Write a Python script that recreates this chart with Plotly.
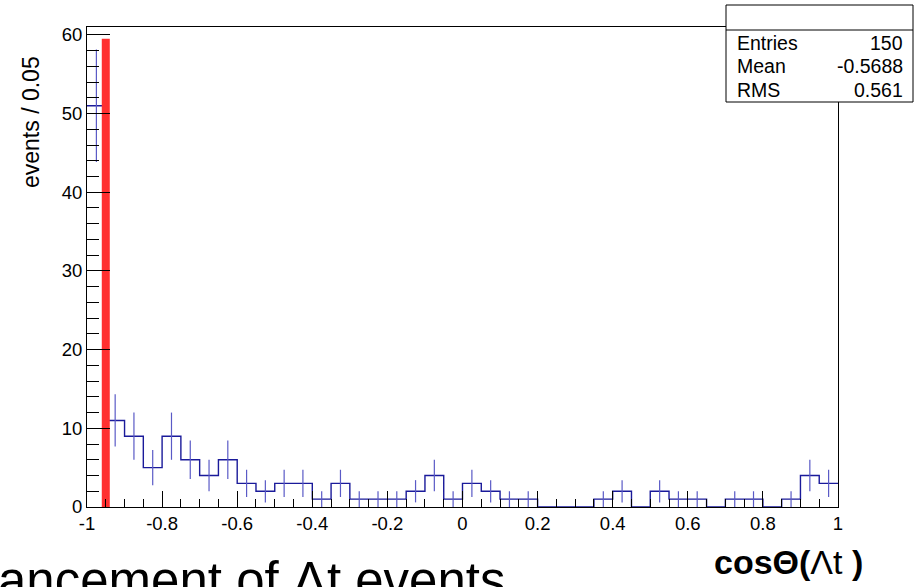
import math
import plotly.graph_objects as go

# Histogram definition: 40 bins of width 0.05 on [-1, 1]
x_min = -1.0
bin_width = 0.05
counts = [51, 11, 9, 5, 9, 6, 4, 6, 3, 2,
          3, 3, 1, 3, 1, 1, 1, 2, 4, 1,
          3, 2, 1, 1, 0, 0, 0, 1, 2, 0,
          2, 1, 1, 0, 1, 1, 0, 1, 4, 3]

x_tick_vals = [-1, -0.8, -0.6, -0.4, -0.2, 0, 0.2, 0.4, 0.6, 0.8, 1]
x_tick_text = ["-1", "-0.8", "-0.6", "-0.4", "-0.2", "0", "0.2", "0.4", "0.6", "0.8", "1"]
y_tick_vals = [0, 10, 20, 30, 40, 50, 60]

# Vertical cut marker
cut_x = -0.95
cut_height = 59.5

# Statistics box contents
stat_names = ["Entries", "Mean", "RMS"]
stat_values = ["150", "-0.5688", "0.561"]

W, H = 923, 587
ML, MR, MT, MB = 87, 85, 27, 80
PW, PH = W - ML - MR, H - MT - MB
FONT = "Liberation Sans, Arial, Helvetica, sans-serif"


def px(xp):
    return (xp - ML) / PW


def py(yp):
    return (H - MB - yp) / PH


n_bins = len(counts)
edges = [x_min + bin_width * i for i in range(n_bins + 1)]
centers = [x_min + bin_width * (i + 0.5) for i in range(n_bins)]
errors = [math.sqrt(c) for c in counts]

fig = go.Figure()

# Step outline of the histogram
fig.add_trace(go.Scatter(
    x=edges, y=counts + [counts[-1]], mode="lines", line_shape="hv",
    line=dict(color="#1a1a9a", width=1.4), hoverinfo="skip", showlegend=False))

# Poisson error bars
fig.add_trace(go.Scatter(
    x=centers, y=counts, mode="markers",
    marker=dict(size=1, opacity=0),
    error_y=dict(type="data", array=errors, width=0, thickness=1.2, color="#5a5ac6"),
    hoverinfo="skip", showlegend=False))

# Red cut line
fig.add_trace(go.Scatter(
    x=[cut_x, cut_x], y=[0, cut_height], mode="lines",
    line=dict(color="#ff3030", width=8), hoverinfo="skip", showlegend=False))

axis_common = dict(
    showgrid=False, zeroline=False, showline=True, linecolor="black",
    linewidth=1, mirror=True, ticks="inside", tickcolor="black",
    tickfont=dict(family=FONT, size=18.5, color="black"),
)

fig.update_xaxes(
    range=[-1, 1], tickmode="array", tickvals=x_tick_vals, ticktext=x_tick_text,
    ticklen=16, tickwidth=1,
    minor=dict(dtick=0.05, tick0=-1, ticklen=8, ticks="inside", tickcolor="black"),
    **axis_common)
fig.update_yaxes(
    range=[0, 61], tickmode="array", tickvals=y_tick_vals,
    ticklen=23, tickwidth=1,
    minor=dict(dtick=2, tick0=0, ticklen=12, ticks="inside", tickcolor="black"),
    **axis_common)

shapes = [
    # stats box
    dict(type="rect", xref="paper", yref="paper",
         x0=px(726), x1=px(913), y0=py(102), y1=py(5),
         line=dict(color="black", width=1), fillcolor="white", layer="above"),
    dict(type="line", xref="paper", yref="paper",
         x0=px(726), x1=px(913), y0=py(30), y1=py(30),
         line=dict(color="black", width=1), layer="above"),
]

annotations = []
row_y = [43, 66, 90]
for name, val, yy in zip(stat_names, stat_values, row_y):
    annotations.append(dict(xref="paper", yref="paper", x=px(735), y=py(yy),
                            xanchor="left", yanchor="middle", text=name, showarrow=False,
                            font=dict(family=FONT, size=19.5, color="black")))
    annotations.append(dict(xref="paper", yref="paper", x=px(905), y=py(yy),
                            xanchor="right", yanchor="middle", text=val, showarrow=False,
                            font=dict(family=FONT, size=19.5, color="black")))

# y-axis title, aligned towards the top as in ROOT
annotations.append(dict(xref="paper", yref="paper", x=px(31), y=py(122),
                        xanchor="center", yanchor="middle", textangle=-90,
                        text="events / 0.05", showarrow=False,
                        font=dict(family=FONT, size=23, color="black")))

# x-axis title
annotations.append(dict(xref="paper", yref="paper", x=px(712), y=py(562),
                        xanchor="left", yanchor="middle",
                        text="<b>cosΘ(</b>Λt <b>)</b>", showarrow=False,
                        font=dict(family=FONT, size=34, color="black")))

# slide caption along the bottom edge
annotations.append(dict(xref="paper", yref="paper", x=px(-4), y=py(580),
                        xanchor="left", yanchor="middle",
                        text="ancement of Λt events", showarrow=False,
                        font=dict(family=FONT, size=51, color="black")))

fig.update_layout(
    width=W, height=H,
    margin=dict(l=ML, r=MR, t=MT, b=MB, pad=0),
    paper_bgcolor="white", plot_bgcolor="white",
    shapes=shapes, annotations=annotations,
    showlegend=False,
)

fig.write_html("out.html", config={"displayModeBar": False})
